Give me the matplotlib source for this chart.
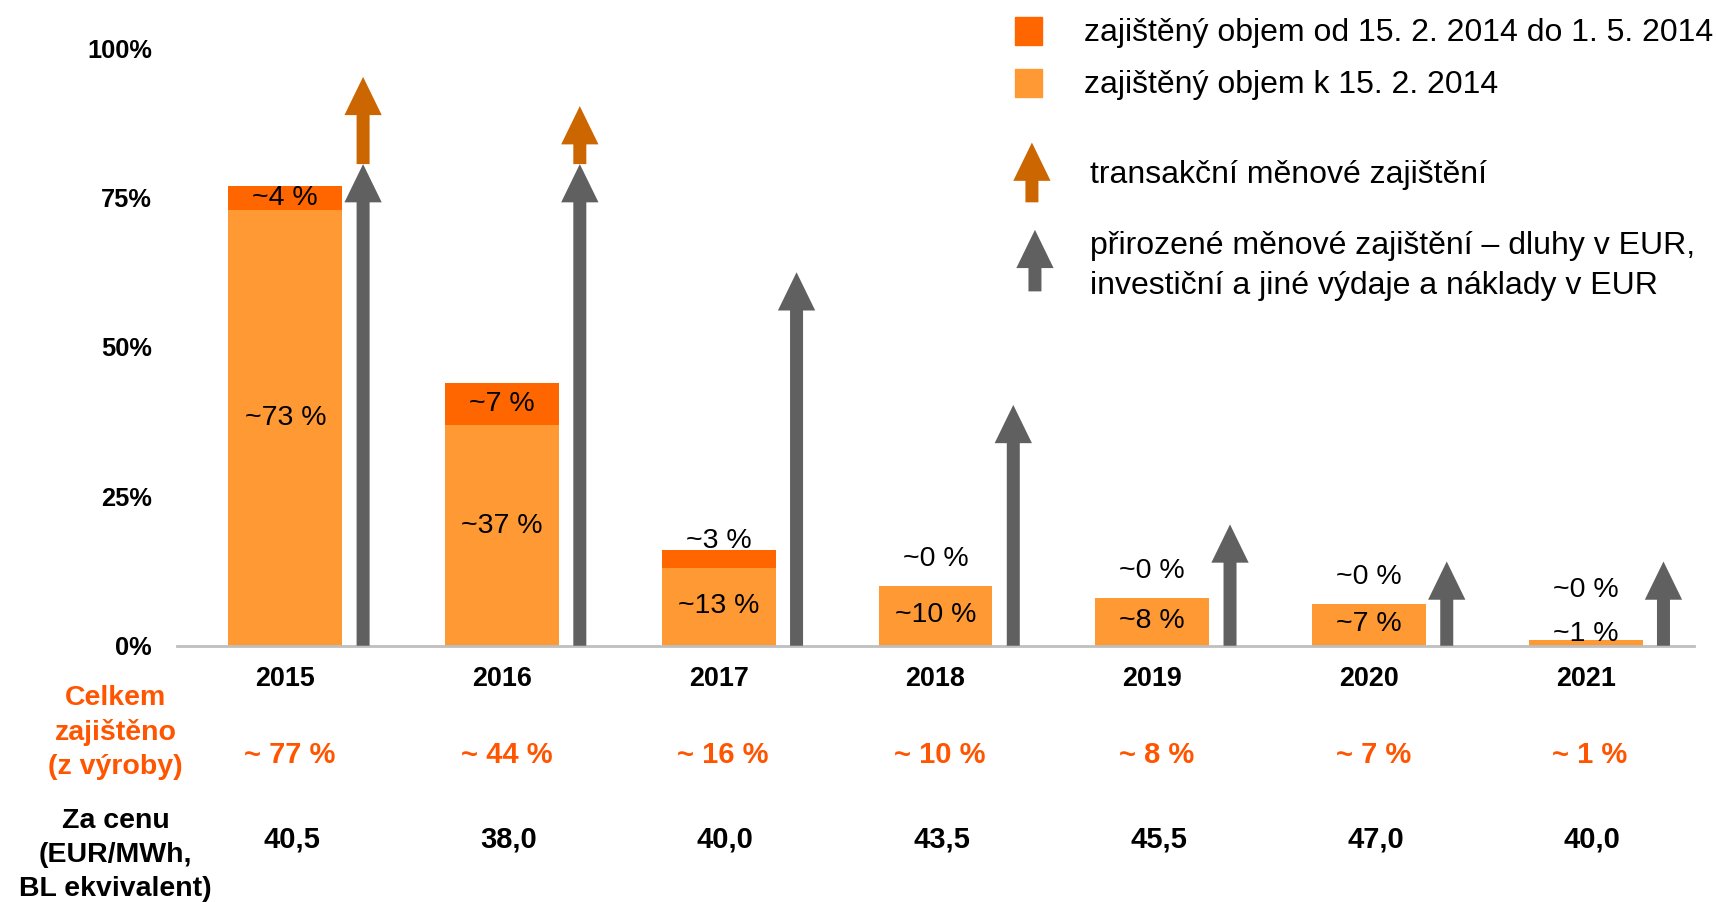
import matplotlib
matplotlib.use("Agg")
import matplotlib.pyplot as plt
from matplotlib.patches import Rectangle
import numpy as np

# ---------- data ----------
years = ["2015", "2016", "2017", "2018", "2019", "2020", "2021"]
hedged_before = [73, 37, 13, 10, 8, 7, 1]      # zajištěný objem k 15. 2. 2014
hedged_added = [4, 7, 3, 0, 0, 0, 0]           # zajištěný objem od 15. 2. do 1. 5. 2014
hedged_total = ["~ 77 %", "~ 44 %", "~ 16 %", "~ 10 %", "~ 8 %", "~ 7 %", "~ 1 %"]
natural_fx = [80.6, 80.6, 62.5, 40.3, 20.3, 14.1, 14.1]    # šedé šipky
transaction_fx = [14.6, 9.7, 0, 0, 0, 0, 0]                # oranžové šipky nad šedými
prices = ["40,5", "38,0", "40,0", "43,5", "45,5", "47,0", "40,0"]

# ---------- styles ----------
c_light = "#FF9933"
c_dark = "#FF6600"
c_arrow_or = "#CC6600"
c_arrow_gr = "#606060"
c_text_or = "#FF5500"
font = "Liberation Sans"
plt.rcParams["font.family"] = [font, "DejaVu Sans"]

fig = plt.figure(figsize=(17.16, 9.02), dpi=100)
ax = fig.add_axes([0.1031, 0.2841, 0.8841, 0.6625])
ax.set_xlim(-0.5, 6.5)
ax.set_ylim(0, 100)

x = np.arange(len(years))
bar_w = 0.525
arr_dx = 0.359
shaft_w = 0.06
head_w = 0.172
head_len = 6.4

before = np.array(hedged_before, dtype=float)
added = np.array(hedged_added, dtype=float)
ax.bar(x, before, width=bar_w, color=c_light, zorder=2)
ax.bar(x, added, width=bar_w, bottom=before, color=c_dark, zorder=2)

# arrows
for xi, nat, tr in zip(x, natural_fx, transaction_fx):
    ax.arrow(xi + arr_dx, 0, 0, nat, width=shaft_w, head_width=head_w,
             head_length=head_len, length_includes_head=True,
             color=c_arrow_gr, lw=0, zorder=3)
    if tr > 0:
        ax.arrow(xi + arr_dx, nat, 0, tr, width=shaft_w, head_width=head_w,
                 head_length=head_len, length_includes_head=True,
                 color=c_arrow_or, lw=0, zorder=3)

# labels in bars
for xi, b, a in zip(x, before, added):
    if a >= 4:
        y_top = b + a / 2
    elif a > 0:
        y_top = b + a + 1.5
    else:
        y_top = max(b + 4.5, 9.4)
    ax.text(xi, y_top, "~%d %%" % a, ha="center", va="center",
            fontsize=20.5, zorder=4)
    if b >= 20:
        y_in = b / 2 + 1.6
    else:
        y_in = b / 2 + 0.2
    y_in = max(y_in, 1.9)
    ax.text(xi, y_in, "~%d %%" % b, ha="center", va="center",
            fontsize=20.5, zorder=4)

# axes look
for s in ["top", "right", "left"]:
    ax.spines[s].set_visible(False)
ax.spines["bottom"].set_color("#BFBFBF")
ax.spines["bottom"].set_linewidth(2)
ax.set_yticks([0, 25, 50, 75, 100])
ax.set_yticklabels(["0%", "25%", "50%", "75%", "100%"],
                   fontsize=18.3, fontweight="bold")
ax.tick_params(axis="y", length=0, pad=18)
ax.set_xticks([])

# rows under the chart
trans = ax.get_xaxis_transform()
for xi, yr, tot, pr in zip(x, years, hedged_total, prices):
    ax.text(xi, -0.055, yr, transform=trans, ha="center", va="center",
            fontsize=19.4, fontweight="bold")
    ax.text(xi + 0.02, -0.1836, tot, transform=trans, ha="center", va="center",
            fontsize=21, fontweight="bold", color=c_text_or)
    ax.text(xi + 0.03, -0.324, pr, transform=trans, ha="center", va="center",
            fontsize=21, fontweight="bold")
ax.text(-0.782, -0.145, "Celkem\nzajištěno\n(z výroby)", transform=trans,
        ha="center", va="center", multialignment="center", fontsize=20.5,
        fontweight="bold", color=c_text_or, linespacing=1.39)
ax.text(-0.782, -0.35, "Za cenu\n(EUR/MWh,\nBL ekvivalent)", transform=trans,
        ha="center", va="center", multialignment="center", fontsize=20.5,
        fontweight="bold", linespacing=1.39)

# legend (drawn by hand)
ax.add_patch(Rectangle((3.365, 100.55), 0.126, 4.6, color=c_dark, clip_on=False))
ax.add_patch(Rectangle((3.365, 91.9), 0.126, 4.6, color=c_light, clip_on=False))
ax.text(3.687, 102.5, "zajištěný objem od 15. 2. 2014 do 1. 5. 2014",
        fontsize=23, va="center")
ax.text(3.687, 93.9, "zajištěný objem k 15. 2. 2014", fontsize=23, va="center")
ax.arrow(3.445, 74.2, 0, 10, width=shaft_w, head_width=head_w,
         head_length=head_len, length_includes_head=True, color=c_arrow_or,
         lw=0, clip_on=False)
ax.text(3.713, 78.7, "transakční měnové zajištění", fontsize=23, va="center")
ax.arrow(3.459, 59.3, 0, 10.3, width=shaft_w, head_width=head_w,
         head_length=head_len, length_includes_head=True, color=c_arrow_gr,
         lw=0, clip_on=False)
ax.text(3.713, 63.5, "přirozené měnové zajištění – dluhy v EUR,\n"
        "investiční a jiné výdaje a náklady v EUR", fontsize=23,
        va="center", linespacing=1.44)

plt.savefig("out.png", dpi=100)
